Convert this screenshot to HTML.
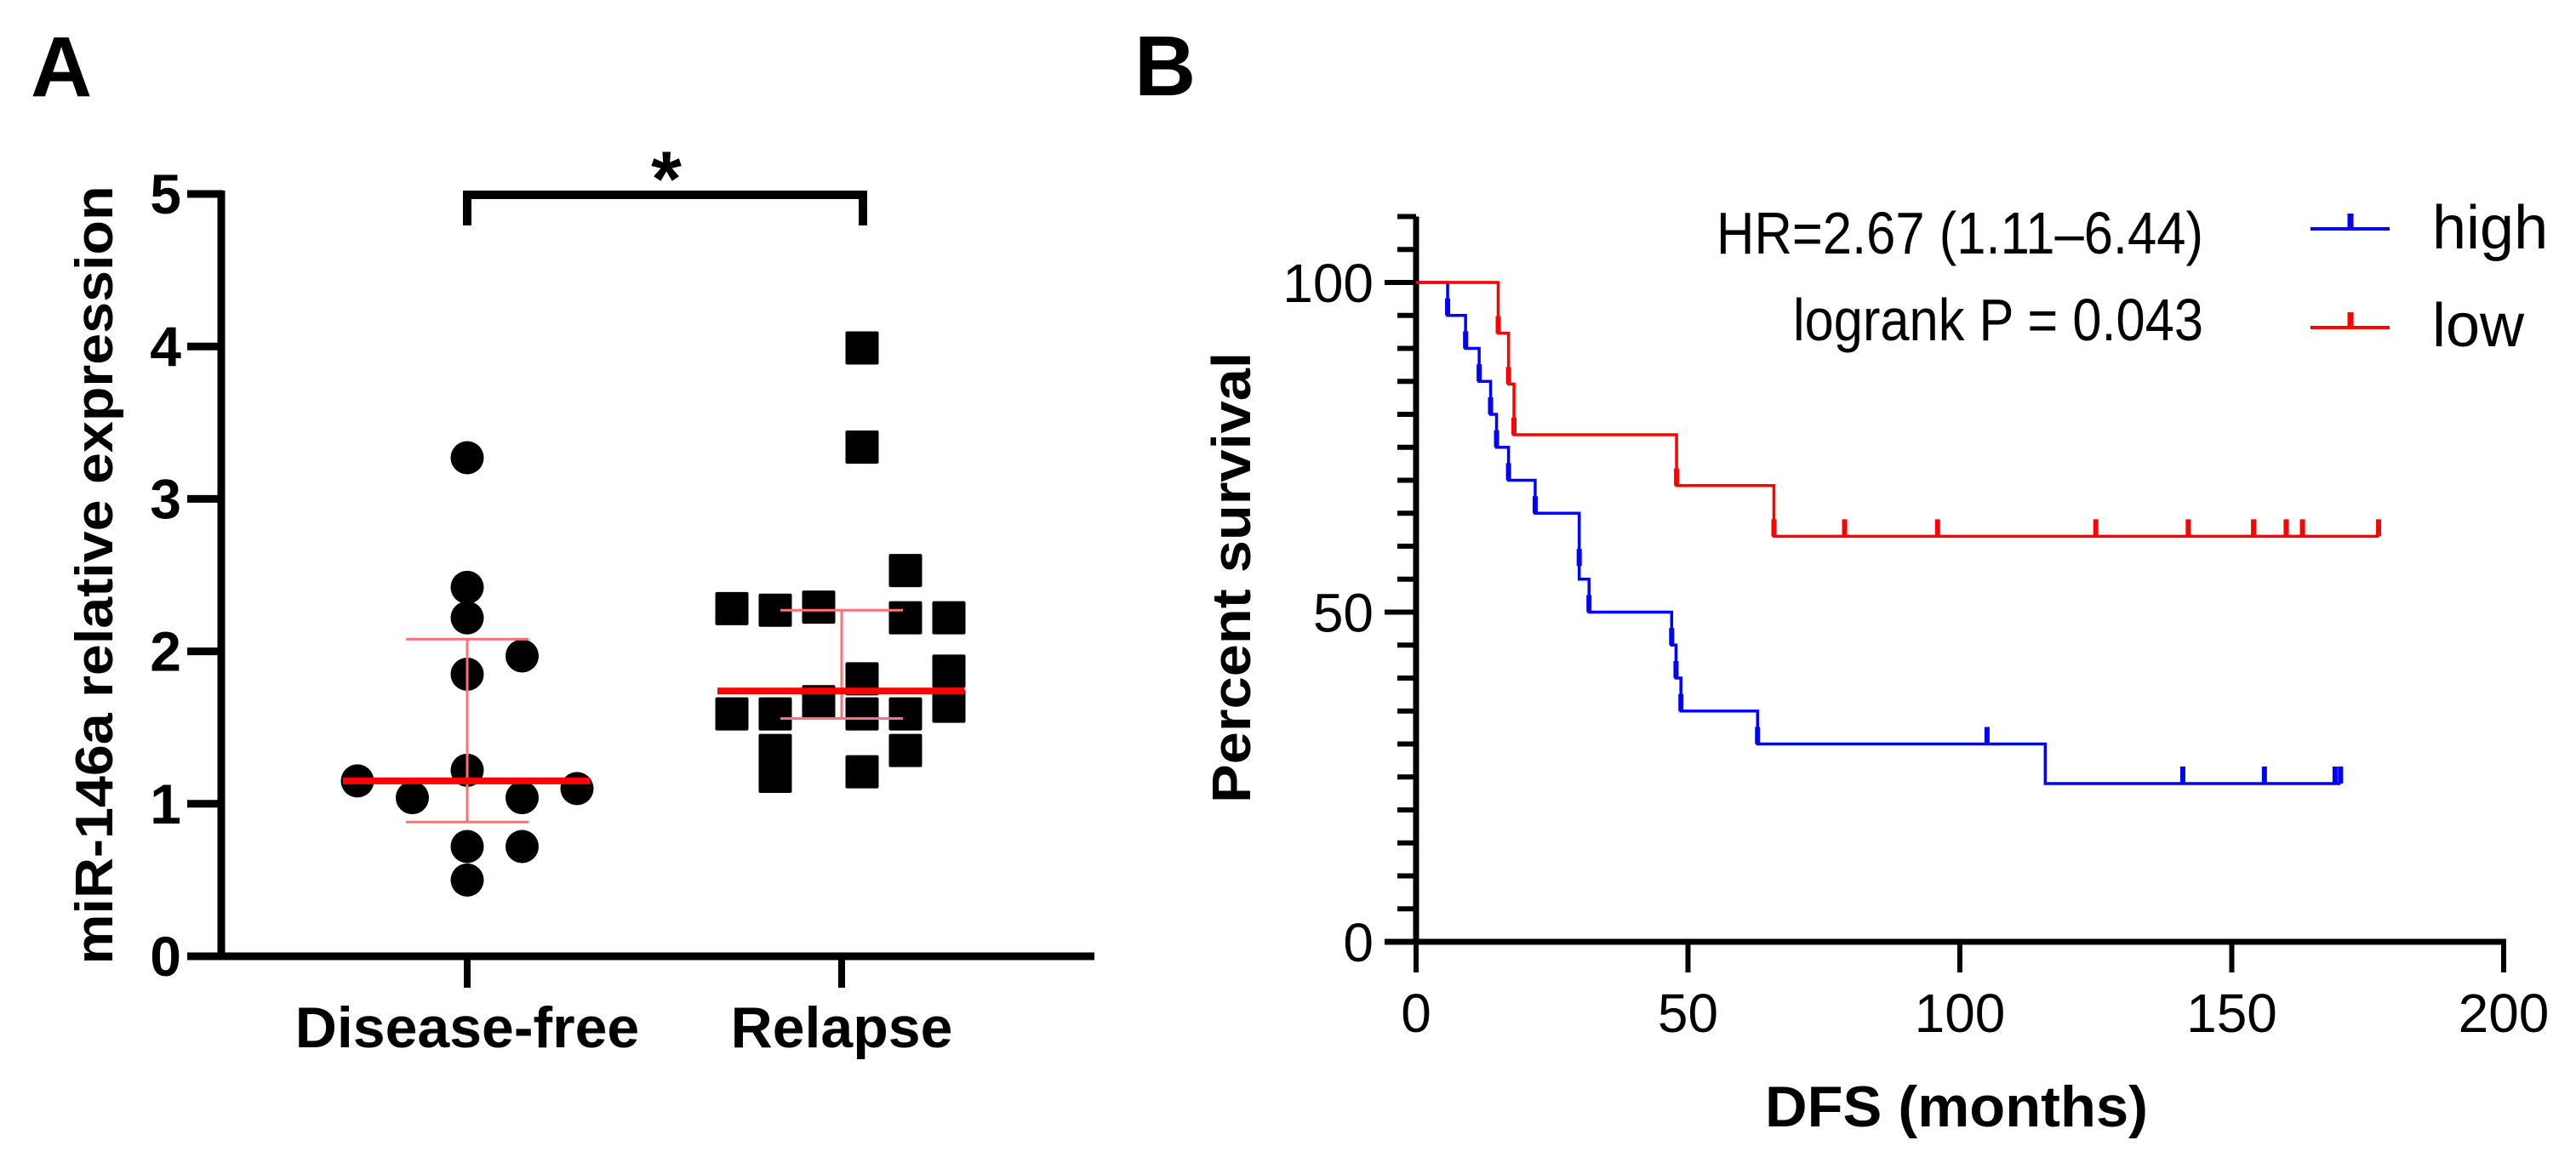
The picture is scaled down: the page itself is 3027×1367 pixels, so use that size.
<!DOCTYPE html>
<html><head><meta charset="utf-8"><style>html,body{margin:0;padding:0;background:#fff}svg{display:block}text{font-family:"Liberation Sans",Arial,sans-serif}</style></head>
<body>
<svg id="fig" width="3027" height="1367" viewBox="0 0 3027 1367" xmlns="http://www.w3.org/2000/svg">
<rect width="3027" height="1367" fill="#fff"/>
<text x="36" y="113" font-size="100" font-weight="bold">A</text>
<text x="1333" y="112" font-size="100" font-weight="bold">B</text>
<g id="pa"></g>
<g id="pb"></g>
</svg>
<script>
// ---------- Panel A data ----------
const catLabels = ["Disease-free", "Relapse"];
const dfValues = [3.27, 2.42, 2.22, 1.97, 1.85, 1.22, 1.15, 1.04, 1.04, 1.10, 0.72, 0.72, 0.50];
const dfSlots  = [0, 0, 0, 1, 0, 0, -2, -1, 1, 2, 0, 1, 0];
const relValues = [3.99, 3.34, 2.53, 2.28, 2.27, 2.29, 2.22, 2.22, 1.82, 1.87, 1.64, 1.59, 1.59, 1.67, 1.59, 1.59, 1.35, 1.35, 1.21, 1.18];
const relSlots  = [0, 0, 1, -3, -2, -1, 1, 2, 0, 2, 2, -3, -2, -1, 0, 1, -2, 1, 0, -2];
const medians = [1.15, 1.74];
const q1s = [0.88, 1.56];
const q3s = [2.08, 2.27];
const yTicksA = [0, 1, 2, 3, 4, 5];

// ---------- Panel B data ----------
const highTimes = [0, 5.8, 9.1, 11.6, 13.7, 14.8, 17.0, 21.9, 30.0, 31.8, 47.0, 47.8, 48.7, 62.8, 115.7];
const highSurv  = [100, 95, 90, 85, 80, 75, 70, 65, 55, 50, 45, 40, 35, 30, 24];
const highEnd = 170;
const highCensT = [5.8, 9.1, 11.6, 13.7, 14.8, 17.0, 21.9, 30.0, 31.8, 47.0, 47.8, 48.7, 62.8, 105, 141, 156, 169, 170];
const highCensS = [95, 90, 85, 80, 75, 70, 65, 57, 50, 45, 40, 35, 30, 30, 24, 24, 24, 24];
const lowTimes = [0, 15.1, 17.0, 18.0, 47.9, 65.8];
const lowSurv  = [100, 92.3, 84.6, 76.9, 69.2, 61.5];
const lowEnd = 177;
const lowCensT = [15.1, 17.0, 18.0, 47.9, 65.8, 78.8, 95.9, 125, 142, 154, 160, 163, 177];
const lowCensS = [92.3, 84.6, 76.9, 69.2, 61.5, 61.5, 61.5, 61.5, 61.5, 61.5, 61.5, 61.5, 61.5];
const xTicksB = [0, 50, 100, 150, 200];
const yMajorB = [0, 50, 100];

const NS = "http://www.w3.org/2000/svg";
function mk(parent, tag, attrs, txt) {
  const e = document.createElementNS(NS, tag);
  for (const k in attrs) e.setAttribute(k, attrs[k]);
  if (txt !== undefined) e.textContent = txt;
  parent.appendChild(e);
  return e;
}

// ===== Panel A =====
const pa = document.getElementById("pa");
const yA = v => 1124 - v * 179.2;
const catX = [549, 989];
const ptCenter = [549, 1013];
const slotW = [64.5, 51];

let e;
e = mk(pa, "line", {x1: 260, y1: yA(5) - 4, x2: 260, y2: 1128, stroke: "#000", "stroke-width": 9});


e = mk(pa, "line", {x1: 220, y1: 1124, x2: 1286, y2: 1124, stroke: "#000", "stroke-width": 9});


yTicksA.forEach(v => {
  e = mk(pa, "line", {x1: 220, y1: yA(v), x2: 262, y2: yA(v), stroke: "#000", "stroke-width": 9});
  
  
  e = mk(pa, "text", {x: 213, y: yA(v) + 23, "font-size": 66, "font-weight": "bold", "text-anchor": "end"}, String(v));
  
  
});
catLabels.forEach((c, i) => {
  e = mk(pa, "line", {x1: catX[i], y1: 1124, x2: catX[i], y2: 1161, stroke: "#000", "stroke-width": 8});
  
  
  e = mk(pa, "text", {x: catX[i], y: 1231, "font-size": 68, "font-weight": "bold", "text-anchor": "middle"}, c);
  
  
});
e = mk(pa, "text", {transform: "translate(132,676) rotate(-90)", "font-size": 62, "font-weight": "bold", "text-anchor": "middle", textLength: 915, lengthAdjust: "spacingAndGlyphs"}, "miR-146a relative expression");



dfValues.forEach((v, i) => {
  e = mk(pa, "circle", {cx: ptCenter[0] + dfSlots[i] * slotW[0], cy: yA(v), r: 19.5, fill: "#000"});
  
  
});
relValues.forEach((v, i) => {
  e = mk(pa, "rect", {x: ptCenter[1] + relSlots[i] * slotW[1] - 19.5, y: yA(v) - 19.5, width: 39, height: 39, rx: 2, fill: "#000"});
  
  
});
medians.forEach((m, i) => {
  const cx = catX[i];
  e = mk(pa, "line", {x1: cx, y1: yA(q1s[i]), x2: cx, y2: yA(q3s[i]), stroke: "#ff7070", "stroke-width": 3});
  
  
  [q1s[i], q3s[i]].forEach(q => {
    e = mk(pa, "line", {x1: cx - 72, y1: yA(q), x2: cx + 72, y2: yA(q), stroke: "#ff7070", "stroke-width": 3});
    
    
  });
  e = mk(pa, "line", {x1: cx - 146, y1: yA(m), x2: cx + 144, y2: yA(m), stroke: "#ff0000", "stroke-width": 8});
  
  
});
e = mk(pa, "path", {d: "M549 265 V229 H1014 V265", fill: "none", stroke: "#000", "stroke-width": 10});


e = mk(pa, "text", {x: 783, y: 242, "font-size": 92, "font-weight": "bold", "text-anchor": "middle"}, "*");



// ===== Panel B =====
const pb = document.getElementById("pb");
const xB = t => 1664 + t * 6.39;
const yB = s => 1107 - s * 7.75;

e = mk(pb, "line", {x1: 1664, y1: yB(110), x2: 1664, y2: 1110, stroke: "#000", "stroke-width": 7});


e = mk(pb, "line", {x1: 1627, y1: 1107, x2: 2945, y2: 1107, stroke: "#000", "stroke-width": 7});


for (let s = 0; s <= 110; s += 5) {
  const major = yMajorB.includes(s);
  e = mk(pb, "line", {x1: major ? 1627 : 1642, y1: yB(s), x2: 1664, y2: yB(s), stroke: "#000", "stroke-width": 6});
  
  
}
yMajorB.forEach(s => {
  e = mk(pb, "text", {x: 1614, y: yB(s) + 23, "font-size": 64, "text-anchor": "end"}, String(s));
  
  
});
xTicksB.forEach(t => {
  e = mk(pb, "line", {x1: xB(t), y1: 1107, x2: xB(t), y2: 1143, stroke: "#000", "stroke-width": 6});
  
  
  e = mk(pb, "text", {x: xB(t), y: 1213, "font-size": 64, "text-anchor": "middle"}, String(t));
  
  
});
e = mk(pb, "text", {x: 2299, y: 1324, "font-size": 68, "font-weight": "bold", "text-anchor": "middle", textLength: 450, lengthAdjust: "spacingAndGlyphs"}, "DFS (months)");


e = mk(pb, "text", {transform: "translate(1469,679) rotate(-90)", "font-size": 64, "font-weight": "bold", "text-anchor": "middle", textLength: 530, lengthAdjust: "spacingAndGlyphs"}, "Percent survival");



function stepPath(times, surv, end) {
  let d = "M" + xB(times[0]) + " " + yB(surv[0]);
  for (let i = 1; i < times.length; i++) {
    d += " H" + xB(times[i]) + " V" + yB(surv[i]);
  }
  d += " H" + xB(end);
  return d;
}
e = mk(pb, "path", {d: stepPath(highTimes, highSurv, highEnd), fill: "none", stroke: "#0000ff", "stroke-width": 3.5});


e = mk(pb, "path", {d: stepPath(lowTimes, lowSurv, lowEnd), fill: "none", stroke: "#ff0000", "stroke-width": 3.5});


highCensT.forEach((t, i) => {
  e = mk(pb, "line", {x1: xB(t), y1: yB(highCensS[i]), x2: xB(t), y2: yB(highCensS[i]) - 20, stroke: "#0000ff", "stroke-width": 6});
  
  
});
lowCensT.forEach((t, i) => {
  e = mk(pb, "line", {x1: xB(t), y1: yB(lowCensS[i]), x2: xB(t), y2: yB(lowCensS[i]) - 20, stroke: "#ff0000", "stroke-width": 6});
  
  
});

e = mk(pb, "text", {x: 2589, y: 298, "font-size": 70, "text-anchor": "end", textLength: 572, lengthAdjust: "spacingAndGlyphs"}, "HR=2.67 (1.11–6.44)");


e = mk(pb, "text", {x: 2589, y: 400, "font-size": 70, "text-anchor": "end", textLength: 482, lengthAdjust: "spacingAndGlyphs"}, "logrank P = 0.043");


[["high", "#0000ff", 269, 292], ["low", "#ff0000", 385, 407]].forEach(([lab, col, y, by]) => {
  e = mk(pb, "line", {x1: 2715, y1: y, x2: 2808, y2: y, stroke: col, "stroke-width": 4});
  
  
  e = mk(pb, "line", {x1: 2762, y1: y, x2: 2762, y2: y - 18, stroke: col, "stroke-width": 7});
  
  
  e = mk(pb, "text", {x: 2858, y: by, "font-size": 72}, lab);
  
  
});
</script>
</body></html>
